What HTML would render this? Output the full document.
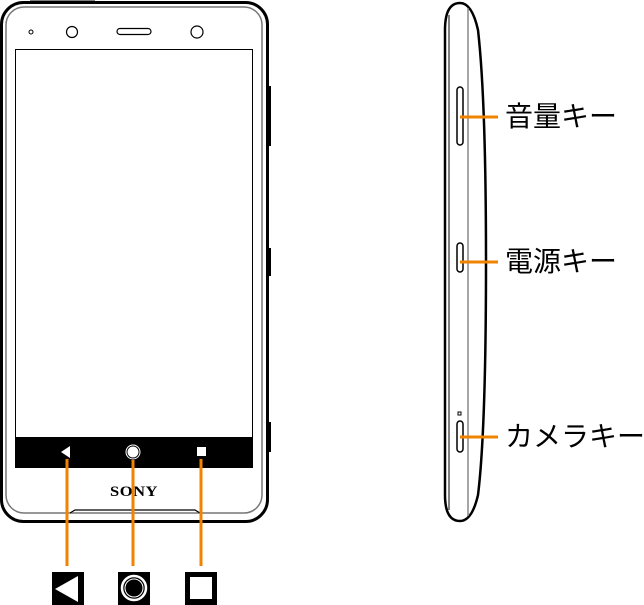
<!DOCTYPE html>
<html><head><meta charset="utf-8"><style>
body{margin:0;background:#fff;width:644px;height:605px;overflow:hidden;position:relative}
.l{position:absolute;left:505px;font:28px "Liberation Sans","Noto Sans CJK JP",sans-serif;color:#000;white-space:nowrap;line-height:1}
</style></head><body>
<svg width="644" height="605" style="position:absolute;left:0;top:0">
<rect x="1.5" y="2.5" width="266" height="519" rx="22" fill="#fff" stroke="#000" stroke-width="3"/>
<rect x="6" y="7" width="256" height="506" rx="18" fill="none" stroke="#777" stroke-width="1.5"/>
<rect x="268" y="86" width="3" height="60" fill="#000"/>
<rect x="268" y="248" width="3" height="28" fill="#000"/>
<rect x="268" y="422" width="3" height="30" fill="#000"/>
<line x1="30" y1="2" x2="95" y2="2" stroke="#000" stroke-width="3"/>
<circle cx="31" cy="32" r="2" fill="none" stroke="#000" stroke-width="1"/>
<circle cx="72" cy="32" r="5.5" fill="none" stroke="#000" stroke-width="1.2"/>
<circle cx="197" cy="32" r="6" fill="none" stroke="#000" stroke-width="1.2"/>
<rect x="117" y="28.5" width="34" height="6" rx="3" fill="none" stroke="#000" stroke-width="1.2"/>
<rect x="15.5" y="49.5" width="237" height="388" fill="#fff" stroke="#000" stroke-width="1"/>
<rect x="15" y="437" width="238" height="31" fill="#000"/>
<polygon points="61,452 70,446 70,458" fill="#fff"/>
<circle cx="133" cy="452" r="6" fill="#fff" stroke="#000" stroke-width="1"/>
<circle cx="133" cy="452" r="7" fill="none" stroke="#fff" stroke-width="1"/>
<rect x="197" y="447" width="9" height="9" fill="#fff"/>
<text x="134" y="496" text-anchor="middle" font-family="Liberation Serif,serif" font-weight="bold" font-size="15" letter-spacing="0.5" transform="translate(134 0) scale(1.1 1) translate(-134 0)">SONY</text>
<path d="M70,513 L75,510 L195,510 L200,513" fill="none" stroke="#000" stroke-width="1.2"/>
<g stroke="#f08300" stroke-width="3">
<line x1="67" y1="459" x2="67" y2="566"/>
<line x1="133" y1="460" x2="133" y2="566"/>
<line x1="201" y1="459" x2="201" y2="566"/>
</g>
<rect x="52" y="572" width="32" height="33" fill="#000"/>
<polygon points="55,589 78,576 78,602" fill="#fff"/>
<rect x="118" y="572" width="32" height="33" fill="#000"/>
<circle cx="134" cy="588" r="12" fill="none" stroke="#fff" stroke-width="2.5"/>
<circle cx="134" cy="588" r="9" fill="none" stroke="#fff" stroke-width="1"/>
<rect x="185" y="572" width="32" height="33" fill="#000"/>
<rect x="190" y="577" width="22" height="22" fill="#fff"/>
<path d="M445,30 Q445,3 460,3 Q472,3 478,30 Q486,100 486,262 Q486,430 478,495 Q472,521 460,521 Q445,521 445,495 Z" fill="#fff" stroke="#000" stroke-width="2.5"/>
<line x1="449" y1="15" x2="449" y2="510" stroke="#000" stroke-width="1"/>
<line x1="468" y1="8" x2="468" y2="516" stroke="#888" stroke-width="1.5"/>
<rect x="457" y="87" width="6" height="58" rx="3" fill="#fff" stroke="#000" stroke-width="1.5"/>
<rect x="457" y="243" width="6" height="29" rx="3" fill="#fff" stroke="#000" stroke-width="1.5"/>
<rect x="457" y="421" width="6" height="31" rx="3" fill="#fff" stroke="#000" stroke-width="1.5"/>
<rect x="458" y="412" width="3" height="3" fill="none" stroke="#000" stroke-width="1"/>
<g stroke="#f08300" stroke-width="3">
<line x1="460" y1="117" x2="498" y2="117"/>
<line x1="460" y1="262" x2="498" y2="262"/>
<line x1="460" y1="437" x2="498" y2="437"/>
</g>
</svg>
<div class="l" style="top:103px">音量キー</div>
<div class="l" style="top:248px">電源キー</div>
<div class="l" style="top:423px">カメラキー</div>
</body></html>
